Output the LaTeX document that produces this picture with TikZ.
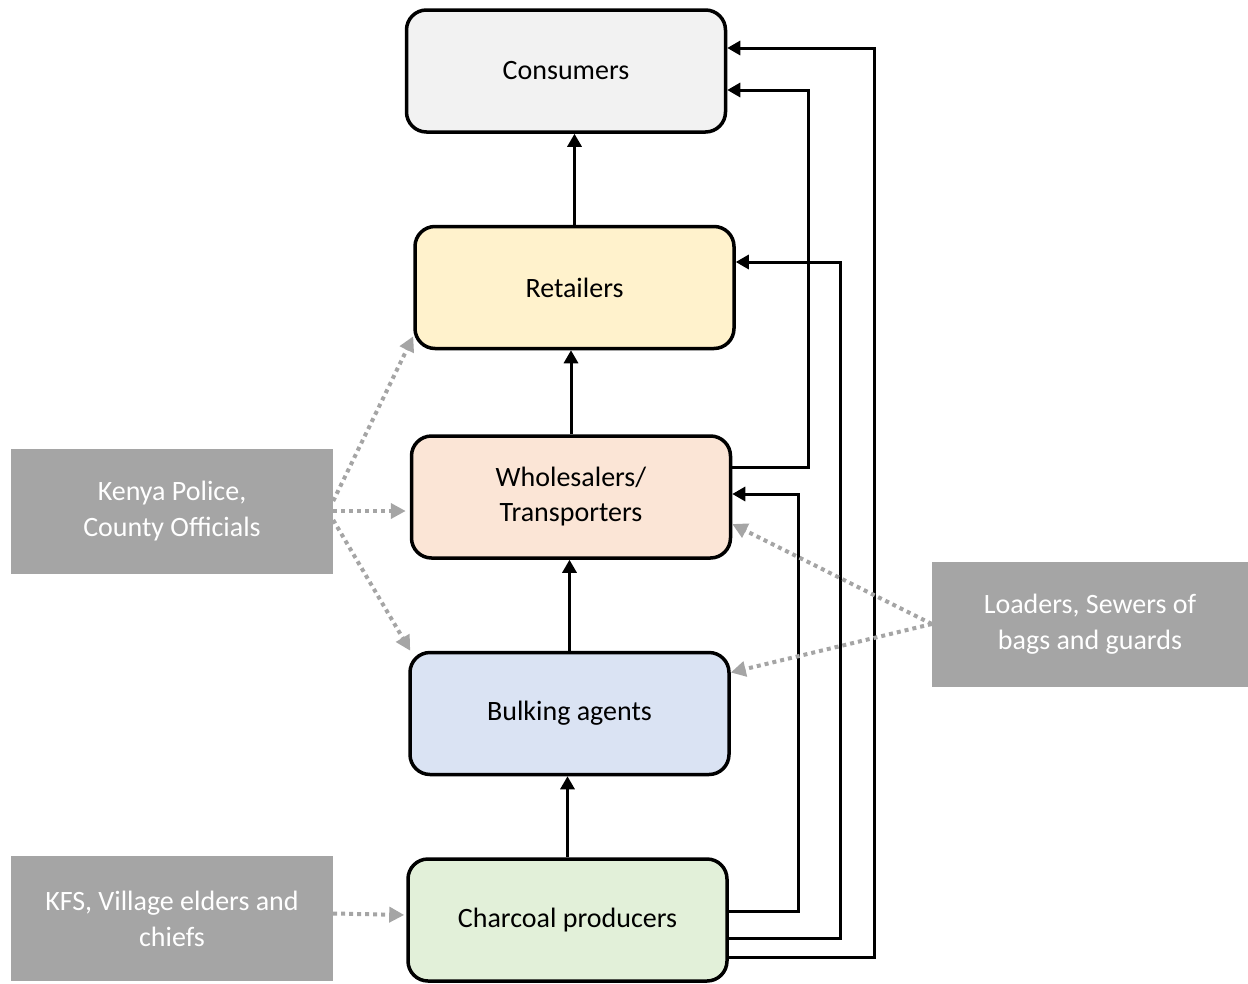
\documentclass[tikz,border=0pt]{standalone}
\usepackage{fontspec}
\setmainfont{Carlito}
\usetikzlibrary{positioning,arrows.meta}

\definecolor{consfill}{HTML}{F2F2F2}
\definecolor{retfill}{HTML}{FFF2CC}
\definecolor{wholefill}{HTML}{FBE5D6}
\definecolor{bulkfill}{HTML}{DAE3F3}
\definecolor{prodfill}{HTML}{E2F0D9}
\definecolor{govgray}{HTML}{A5A5A5}

\begin{document}
\begin{tikzpicture}[x=1pt,y=-1pt,
  actor/.style={draw, line width=3.5pt, rounded corners=20pt, minimum width=319pt,
    minimum height=122pt, align=center, font=\fontsize{28}{35}\selectfont},
  agency/.style={fill=govgray, text=white, minimum width=322pt, minimum height=125pt,
    align=center, font=\fontsize{28}{36}\selectfont},
  flow/.style={line width=3pt, -{Triangle[length=13pt,width=14pt]}},
  influence/.style={draw=govgray, line width=4pt, dash pattern=on 4pt off 4pt,
    -{Triangle[length=15pt,width=15pt,fill=govgray]}}]
  \useasboundingbox (0,0) rectangle (1248,983);

  % Define nodes
  \node[actor, fill=prodfill]                                  (prod)   at (567.5,920) {Charcoal producers};
  \node[actor, fill=bulkfill,  above=81pt of prod, xshift=2pt]   (bulk)   {Bulking agents};
  \node[actor, fill=wholefill, above=91pt of bulk, xshift=1.5pt] (whole)  {Wholesalers/\\Transporters};
  \node[actor, fill=retfill,   above=84pt of whole, xshift=3.5pt] (retail) {Retailers};
  \node[actor, fill=consfill,  above=91pt of retail, xshift=-8.5pt] (cons) {Consumers};

  \node[agency] (police)  at (172,511)    {Kenya Police,\\County Officials};
  \node[agency] (kfs)     at (172,918.5)  {KFS, Village elders and\\chiefs};
  \node[agency, minimum width=316pt] (loaders) at (1090,624) {Loaders, Sewers of\\bags and guards};

  % Connect the nodes
  \draw[flow] (prod.north)   -- (prod.north |- bulk.south);
  \draw[flow] (bulk.north)   -- (bulk.north |- whole.south);
  \draw[flow] (whole.north)  -- (whole.north |- retail.south);
  \draw[flow] (retail.north) -- (retail.north |- cons.south);

  \draw[flow] (whole.east |- 0,467) -| (808,90)  -- (cons.east |- 0,90);
  \draw[flow] (prod.east |- 0,911)  -| (798,494) -- (whole.east |- 0,494);
  \draw[flow] (prod.east |- 0,938)  -| (840,262) -- (retail.east |- 0,262);
  \draw[flow] (prod.east |- 0,957)  -| (874,48)  -- (cons.east |- 0,48);

  \draw[influence] ([yshift=10pt]police.east) -- ([yshift=14pt]retail.south west);
  \draw[influence, shorten >=4pt] (police.east) -- (whole.west |- police.east);
  \draw[influence] ([yshift=-9pt]police.east) -- ([xshift=2pt]bulk.north west);
  \draw[influence] (loaders.west) -- ([yshift=-27pt]whole.east);
  \draw[influence] (loaders.west) -- ([yshift=41pt]bulk.east);
  \draw[influence, shorten >=2pt] ([yshift=5pt]kfs.east) -- ([yshift=5pt]prod.west);
\end{tikzpicture}
\end{document}
